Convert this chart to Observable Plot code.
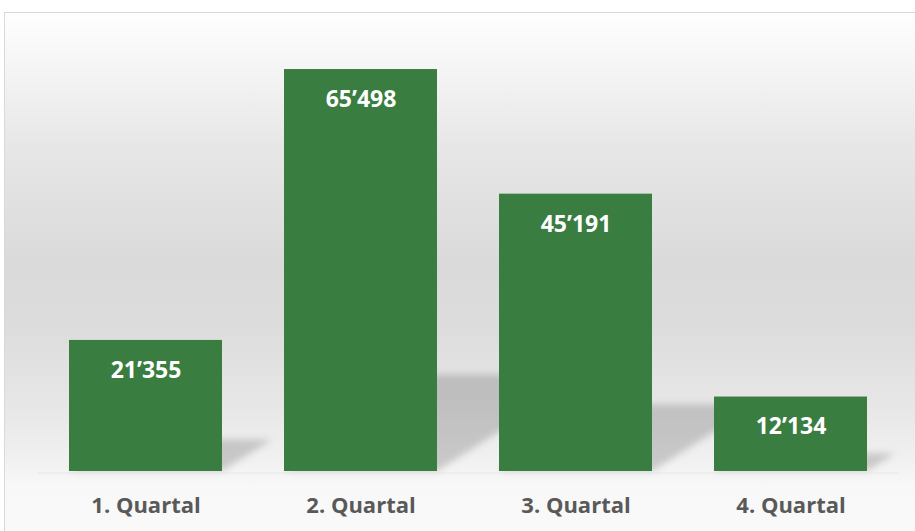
<!DOCTYPE html>
<html>
<head>
<meta charset="utf-8">
<script src="https://cdn.jsdelivr.net/npm/d3@7"></script>
<script src="https://cdn.jsdelivr.net/npm/@observablehq/plot@0.6"></script>
<style>
  html, body { margin: 0; padding: 0; background: #ffffff; overflow: hidden; }
  #wrap { position: relative; width: 915px; height: 531px; overflow: hidden; }
  #bg {
    position: absolute; left: 4px; top: 12px; width: 1000px; height: 600px;
    border: 1px solid #d9d9d9; box-sizing: border-box;
    background: linear-gradient(to bottom,
      #fefefe 0%, #f6f6f6 8%, #e7e7e7 22%, #dadada 42%, #dcdcdc 52%,
      #e7e7e7 66%, #f1f1f1 75%, #f8f8f8 79%, #fbfbfb 100%);
  }
  #chart { position: absolute; left: 0; top: 0; }
</style>
</head>
<body>
<div id="wrap">
  <div id="bg"></div>
  <div id="chart"></div>
</div>
<script>
const quarters = ["1. Quartal", "2. Quartal", "3. Quartal", "4. Quartal"];
const values = [21355, 65498, 45191, 12134];
const yMax = 70000;

const data = quarters.map((q, i) => ({quarter: q, value: values[i]}));
const fmt = d3.formatLocale({decimal: ".", thousands: "\u2019", grouping: [3], currency: ["", ""]}).format(",d");

const green = "#3a7d41";

const chart = Plot.plot({
  width: 915,
  height: 531,
  marginTop: 41.4,
  marginBottom: 60,
  marginLeft: 37,
  marginRight: 16,
  style: {background: "transparent", fontFamily: "'Open Sans', sans-serif", color: "#595959", overflow: "visible"},
  x: {domain: quarters, paddingInner: 0.29, paddingOuter: 0.145, axis: null},
  y: {domain: [0, yMax], axis: null},
  marks: [
    Plot.barY(data, {x: "quarter", y: "value", fill: "#000000", fillOpacity: 0.17}),
    Plot.ruleY([0], {stroke: "#e6e6e6", strokeWidth: 1, dy: 1.5}),
    Plot.barY(data, {x: "quarter", y: "value", fill: green}),
    Plot.text(data, {x: "quarter", y: "value", text: d => fmt(d.value), fill: "#ffffff",
      fontSize: 23, fontWeight: "bold", dy: 30, lineAnchor: "middle", textAnchor: "middle"}),
    Plot.axisX({tickSize: 0, tickPadding: 26, fontSize: 22, fontWeight: "bold", fill: "#595959", label: null})
  ]
});

document.getElementById("chart").appendChild(chart);

// Perspective shadow: shear the first (shadow) bar group about the baseline and blur it.
const svg = d3.select(chart);
const y0 = chart.scale("y").apply(0);
const s = 0.24, k = 0.38;
const defs = svg.insert("defs", ":first-child");
defs.append("filter").attr("id", "shadowBlur")
  .attr("x", "-20%").attr("y", "-20%").attr("width", "140%").attr("height", "140%")
  .append("feGaussianBlur").attr("stdDeviation", 3.5);
const shadowG = svg.selectAll("g[aria-label='bar']").nodes()[0];
const wrapper = document.createElementNS("http://www.w3.org/2000/svg", "g");
wrapper.setAttribute("filter", "url(#shadowBlur)");
shadowG.parentNode.insertBefore(wrapper, shadowG);
wrapper.appendChild(shadowG);
shadowG.setAttribute("transform", `matrix(1,0,${-k},${s},${k * y0},${(1 - s) * y0})`);
</script>
</body>
</html>
